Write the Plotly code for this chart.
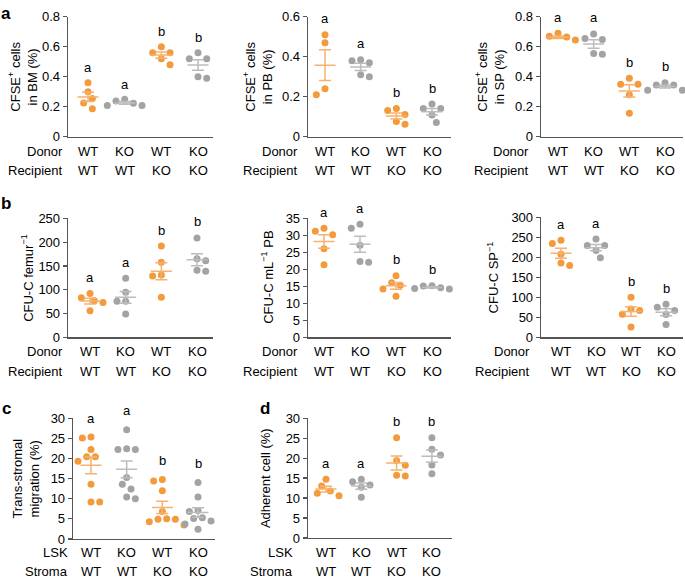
import numpy as np
import plotly.graph_objects as go

W, H = 685, 585
FONT = "Liberation Sans, Arial, Helvetica, sans-serif"

ORANGE = "rgb(243,154,60)"
GRAY = "rgb(163,163,163)"
ORANGE_L = "rgb(246,178,110)"
GRAY_L = "rgb(188,188,188)"
AXIS = "rgb(85,85,85)"

# ---------------- data ----------------
groups_top = ["WT", "KO", "WT", "KO"]
groups_bot = ["WT", "WT", "KO", "KO"]
row_labels_ab = ["Donor", "Recipient"]
row_labels_cd = ["LSK", "Stroma"]

bm_cfse = [[0.36, 0.30, 0.255, 0.225, 0.185],
           [0.25, 0.238, 0.223, 0.207, 0.207],
           [0.60, 0.56, 0.56, 0.52, 0.48],
           [0.56, 0.52, 0.52, 0.40, 0.39]]
pb_cfse = [[0.51, 0.47, 0.24, 0.21],
           [0.385, 0.38, 0.37, 0.31, 0.30],
           [0.14, 0.13, 0.11, 0.075, 0.062],
           [0.163, 0.14, 0.14, 0.108, 0.07]]
sp_cfse = [[0.69, 0.67, 0.665, 0.645, 0.645],
           [0.685, 0.654, 0.648, 0.554, 0.55],
           [0.39, 0.35, 0.35, 0.28, 0.155],
           [0.36, 0.345, 0.345, 0.31, 0.31]]
cfu_femur = [[92, 83, 77, 73, 56],
             [124, 95, 76, 76, 49],
             [192, 158, 131, 129, 84],
             [209, 165, 161, 141, 139]]
cfu_pb = [[32.1, 31.2, 30.2, 26.1, 21.4],
          [33.3, 32.1, 27.1, 22.3, 22.1],
          [18.1, 16.1, 15.3, 14.2, 12.1],
          [15.2, 15.1, 14.6, 14.4, 14.2]]
cfu_sp = [[243, 235, 208, 186, 180],
          [246, 230, 230, 217, 199],
          [100, 71, 67, 58, 26],
          [83, 75, 67, 57, 32]]
migration = [[25.3, 25.1, 22.2, 20.4, 20.4, 19.3, 13.6, 9.2, 9.2],
             [27.1, 22.4, 22.2, 22.2, 15.3, 13.6, 12.4, 10.4, 10.0],
             [14.8, 14.4, 12.0, 6.8, 5.0, 4.9, 4.9, 4.3, 3.5],
             [14.0, 10.4, 7.1, 6.8, 5.3, 5.1, 4.5, 3.7, 2.4]]
adherent = [[14.7, 13.0, 11.8, 11.2, 10.6],
            [14.7, 14.1, 13.3, 12.7, 10.2],
            [25.1, 19.4, 18.2, 15.7, 15.5],
            [25.1, 22.2, 20.8, 18.3, 16.1]]

letters = ["a", "a", "b", "b"]

# ---------------- panel layout (pixels) ----------------
panels = [
    dict(data=bm_cfse, ytitle="CFSE<sup>+</sup> cells<br>in BM (%)", left=68, right=213, c0=88, s=36.67,
         y0=133, ytop=10, ymax=0.8, dtick=0.2, rows=row_labels_ab, rowy=(148, 168), rowx=65, tx=23, lshift=15),
    dict(data=pb_cfse, ytitle="CFSE<sup>+</sup> cells<br>in PB (%)", left=308, right=451, c0=325, s=35.67,
         y0=133, ytop=10, ymax=0.6, dtick=0.2, rows=row_labels_ab, rowy=(148, 168), rowx=300, tx=258, lshift=16),
    dict(data=sp_cfse, ytitle="CFSE<sup>+</sup> cells<br>in SP (%)", left=541, right=683, c0=558, s=35.67,
         y0=133, ytop=10, ymax=0.8, dtick=0.2, rows=row_labels_ab, rowy=(148, 168), rowx=531, tx=490, lshift=16),
    dict(data=cfu_femur, ytitle="CFU-C femur<sup>−1</sup>", left=68, right=213, c0=90, s=35.67,
         y0=339, ytop=217, ymax=250, dtick=50, rows=row_labels_ab, rowy=(354, 374), rowx=65, tx=27, lshift=16),
    dict(data=cfu_pb, ytitle="CFU-C mL<sup>−1</sup> PB", left=308, right=451, c0=324, s=36,
         y0=339, ytop=217, ymax=35, dtick=5, rows=row_labels_ab, rowy=(354, 374), rowx=300, tx=267, lshift=16),
    dict(data=cfu_sp, ytitle="CFU-C SP<sup>−1</sup>", left=541, right=683, c0=561, s=35,
         y0=339, ytop=216, ymax=300, dtick=50, rows=row_labels_ab, rowy=(354, 374), rowx=532, tx=493, lshift=16),
    dict(data=migration, ytitle="Trans-stromal<br>migration (%)", left=73, right=215, c0=91, s=35.67,
         y0=546, ytop=422, ymax=30, dtick=5, rows=row_labels_cd, rowy=(560, 579), rowx=70, tx=26, lshift=19),
    dict(data=adherent, ytitle="Adherent cell (%)", left=308, right=452, c0=326, s=35.3,
         y0=545, ytop=422, ymax=30, dtick=5, rows=row_labels_cd, rowy=(560, 579), rowx=295, tx=265, lshift=16),
]

panel_letters = [("a", 6, 7), ("b", 6, 202), ("c", 6, 412), ("d", 265, 412)]

MS = 7  # marker diameter px


def px_x(p):
    return p / W


def px_y(p):
    return 1 - p / H


def swarm(vals, px_per_unit, d):
    """deterministic beeswarm offsets (px) for one group"""
    order = np.argsort(-np.asarray(vals))
    placed = []
    offs = np.zeros(len(vals))
    step = d * 0.62
    for k, idx in enumerate(order):
        y = vals[idx] * px_per_unit
        cands = [0]
        for j in range(1, 7):
            if k % 2 == 0:
                cands += [j * step, -j * step]
            else:
                cands += [-j * step, j * step]
        for c in cands:
            ok = all((c - ox) ** 2 + (y - oy) ** 2 >= (d * 1.15) ** 2 for ox, oy in placed)
            if ok:
                offs[idx] = c
                placed.append((c, y))
                break
    return offs


fig = go.Figure()
layout = dict(width=W, height=H, margin=dict(l=0, r=0, t=0, b=0),
              paper_bgcolor="white", plot_bgcolor="white", showlegend=False,
              font=dict(family=FONT, size=13, color="black"))
annotations = []

for pi, P in enumerate(panels):
    n = pi + 1
    xa = "x" if n == 1 else f"x{n}"
    ya = "y" if n == 1 else f"y{n}"
    xr = [(P["left"] - P["c0"]) / P["s"], (P["right"] - P["c0"]) / P["s"]]
    ppu = (P["y0"] - P["ytop"]) / P["ymax"]
    layout[f"xaxis{'' if n == 1 else n}"] = dict(
        domain=[px_x(P["left"]), px_x(P["right"])], range=xr, anchor=ya,
        showgrid=False, zeroline=False, showline=True, linecolor=AXIS, linewidth=1.3,
        showticklabels=False, ticks="", fixedrange=True)
    layout[f"yaxis{'' if n == 1 else n}"] = dict(
        domain=[px_y(P["y0"]), px_y(P["ytop"])], range=[0, P["ymax"]], anchor=xa,
        showgrid=False, zeroline=False, showline=True, linecolor=AXIS, linewidth=1.3,
        ticks="outside", ticklen=4, tickcolor=AXIS, tickwidth=1.2, dtick=P["dtick"], tick0=0,
        tickfont=dict(size=13, family=FONT, color="black"), fixedrange=True)

    for gi, vals in enumerate(P["data"]):
        col = ORANGE if gi % 2 == 0 else GRAY
        coll = ORANGE_L if gi % 2 == 0 else GRAY_L
        v = np.asarray(vals, dtype=float)
        offs = swarm(v, ppu, MS) / P["s"]
        fig.add_trace(go.Scatter(x=gi + offs, y=v, mode="markers", xaxis=xa, yaxis=ya,
                                 marker=dict(size=MS, color=col, line=dict(width=0)),
                                 cliponaxis=False, hoverinfo="skip"))
        m = v.mean()
        sem = v.std(ddof=1) / np.sqrt(len(v))
        hw = 10.5 / P["s"]
        fig.add_trace(go.Scatter(x=[gi - hw, gi + hw], y=[m, m], mode="lines", xaxis=xa, yaxis=ya,
                                 line=dict(color=coll, width=1.5), hoverinfo="skip", cliponaxis=False))
        fig.add_trace(go.Scatter(x=[gi], y=[m], mode="markers", xaxis=xa, yaxis=ya,
                                 marker=dict(size=1, opacity=0),
                                 error_y=dict(type="data", array=[sem], visible=True, color=coll,
                                              thickness=1.5, width=6),
                                 hoverinfo="skip", cliponaxis=False))
        annotations.append(dict(x=gi, y=v.max(), xref=xa, yref=ya, text=letters[gi], showarrow=False,
                                yshift=P["lshift"], font=dict(size=13, family=FONT), yanchor="middle"))
        annotations.append(dict(x=gi, y=px_y(P["rowy"][0]), xref=xa, yref="paper", text=groups_top[gi],
                                showarrow=False, font=dict(size=13, family=FONT), yanchor="middle"))
        annotations.append(dict(x=gi, y=px_y(P["rowy"][1]), xref=xa, yref="paper", text=groups_bot[gi],
                                showarrow=False, font=dict(size=13, family=FONT), yanchor="middle"))
    for ri, lab in enumerate(P["rows"]):
        annotations.append(dict(x=px_x(P["rowx"]), y=px_y(P["rowy"][ri]), xref="paper", yref="paper",
                                text=lab, showarrow=False, xanchor="right", yanchor="middle",
                                font=dict(size=13, family=FONT)))
    annotations.append(dict(x=px_x(P["tx"]), y=px_y((P["y0"] + P["ytop"]) / 2), xref="paper", yref="paper",
                            text=P["ytitle"], textangle=-90, showarrow=False, xanchor="center",
                            yanchor="middle", font=dict(size=13, family=FONT)))

for t, x, y in panel_letters:
    annotations.append(dict(x=px_x(x), y=px_y(y), xref="paper", yref="paper", text=f"<b>{t}</b>",
                            showarrow=False, xanchor="center", yanchor="middle",
                            font=dict(size=17, family=FONT, color="black")))

layout["annotations"] = annotations
fig.update_layout(**layout)
fig.write_html("out.html", config={"displayModeBar": False, "staticPlot": True},
               post_script="document.body.style.margin='0';document.body.style.padding='0';"
                           "document.body.style.overflow='hidden';"
                           "document.documentElement.style.overflow='hidden';")
